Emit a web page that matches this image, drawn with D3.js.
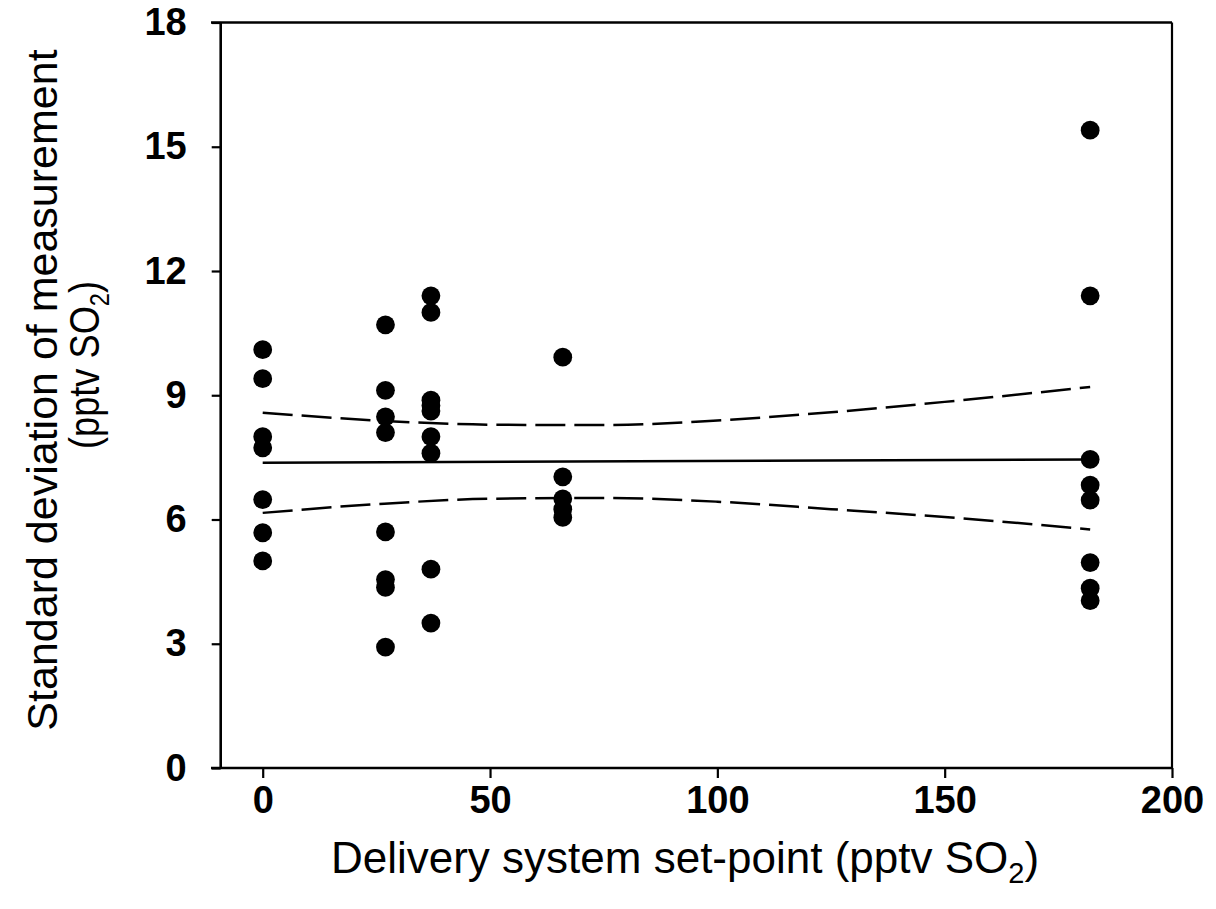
<!DOCTYPE html>
<html>
<head>
<meta charset="utf-8">
<script src="https://cdn.jsdelivr.net/npm/d3@7"></script>
<style>
  html, body { margin: 0; padding: 0; background: #fff; }
  svg { display: block; }
  .tick text { font-family: "Liberation Sans", Arial, sans-serif; font-weight: bold; }
  .title { font-family: "Liberation Sans", Arial, sans-serif; }
</style>
</head>
<body>
<svg id="chart" width="1216" height="909"></svg>
<script>
// Set-points (pptv SO2) and the standard deviations measured at each
const setPoints = [0, 27, 37, 66, 182];
const sd0   = [10.1, 9.4, 8.0, 7.73, 6.48, 5.68, 5.0];
const sd27  = [10.7, 9.12, 8.48, 8.1, 5.7, 4.55, 4.36, 2.92];
const sd37  = [11.4, 11.0, 8.88, 8.75, 8.62, 8.0, 7.6, 4.8, 3.5];
const sd66  = [9.92, 7.03, 6.5, 6.25, 6.05];
const sd182 = [15.4, 11.4, 7.45, 6.83, 6.47, 4.96, 4.34, 4.04];
const sdGroups = [sd0, sd27, sd37, sd66, sd182];

// Regression line and its confidence band
const fitX   = [0, 182];
const fitY   = [7.37, 7.45];
const bandX  = [0, 25, 50, 75, 100, 125, 150, 182];
const bandHi = [8.58, 8.39, 8.29, 8.28, 8.39, 8.59, 8.84, 9.2];
const bandLo = [6.16, 6.37, 6.5, 6.52, 6.43, 6.25, 6.06, 5.76];

const xTicks = [0, 50, 100, 150, 200];
const yTicks = [0, 3, 6, 9, 12, 15, 18];

const svg = d3.select("#chart");

const x = d3.scaleLinear().domain([-9.24, 200]).range([220.7, 1172]);
const y = d3.scaleLinear().domain([0, 18]).range([768, 22.5]);

const ink = "#000";

// frame: top and right edges
svg.append("line").attr("x1", 211).attr("x2", x(200)).attr("y1", y(18)).attr("y2", y(18))
  .attr("stroke", ink).attr("stroke-width", 2.4);
svg.append("line").attr("x1", x(200)).attr("x2", x(200)).attr("y1", y(18)).attr("y2", y(0))
  .attr("stroke", ink).attr("stroke-width", 2.2);

// axes
const xAxis = svg.append("g").attr("transform", `translate(0,${y(0)})`)
  .call(d3.axisBottom(x).tickValues(xTicks).tickSize(10).tickPadding(8).tickFormat(d3.format("d")));
const yAxis = svg.append("g").attr("transform", `translate(${x.range()[0]},0)`)
  .call(d3.axisLeft(y).tickValues(yTicks).tickSize(9).tickPadding(25).tickFormat(d3.format("d")));

[xAxis, yAxis].forEach(g => {
  g.select(".domain").remove();
  g.selectAll(".tick line").attr("stroke", ink).attr("stroke-width", 2.2);
  g.selectAll(".tick text").attr("fill", ink).attr("font-size", 38);
});
svg.append("line").attr("x1", 211).attr("x2", x(200)).attr("y1", y(0)).attr("y2", y(0))
  .attr("stroke", ink).attr("stroke-width", 2.6);
svg.append("line").attr("x1", x.range()[0]).attr("x2", x.range()[0]).attr("y1", y(18)).attr("y2", y(0))
  .attr("stroke", ink).attr("stroke-width", 2.6);

// regression line
const line = d3.line().x(d => x(d[0])).y(d => y(d[1]));
svg.append("path")
  .datum(d3.zip(fitX, fitY))
  .attr("d", line).attr("fill", "none").attr("stroke", ink).attr("stroke-width", 2.5);

// confidence band (dashed)
const curve = d3.line().x(d => x(d[0])).y(d => y(d[1])).curve(d3.curveMonotoneX);
[bandHi, bandLo].forEach(band => {
  svg.append("path")
    .datum(d3.zip(bandX, band))
    .attr("d", curve).attr("fill", "none").attr("stroke", ink)
    .attr("stroke-width", 2.5).attr("stroke-dasharray", "30,9");
});

// data points
const pts = setPoints.flatMap((sp, i) => sdGroups[i].map(v => ({ sp, v })));
svg.append("g").selectAll("circle").data(pts).join("circle")
  .attr("cx", d => x(d.sp)).attr("cy", d => y(d.v)).attr("r", 9.4).attr("fill", ink);

// axis titles
const xt = svg.append("text").attr("class", "title")
  .attr("x", 685).attr("y", 873).attr("text-anchor", "middle")
  .attr("font-size", 44).attr("fill", ink);
xt.append("tspan").text("Delivery system set-point (pptv SO");
xt.append("tspan").attr("font-size", 29).attr("dy", 10).text("2");
xt.append("tspan").attr("dy", -10).text(")");

const yt = svg.append("text").attr("class", "title")
  .attr("transform", "translate(0,390) rotate(-90)")
  .attr("text-anchor", "middle").attr("font-size", 43).attr("fill", ink);
yt.append("tspan").attr("x", 0).attr("y", 57).text("Standard deviation of measurement");

const yt2 = svg.append("text").attr("class", "title")
  .attr("transform", "translate(0,365) rotate(-90)")
  .attr("x", -84).attr("y", 99)
  .attr("font-size", 43).attr("fill", ink)
  .attr("textLength", 168).attr("lengthAdjust", "spacingAndGlyphs");
yt2.append("tspan").text("(pptv SO");
yt2.append("tspan").attr("font-size", 28).attr("dy", 10).text("2");
yt2.append("tspan").attr("dy", -10).text(")");
</script>
</body>
</html>
